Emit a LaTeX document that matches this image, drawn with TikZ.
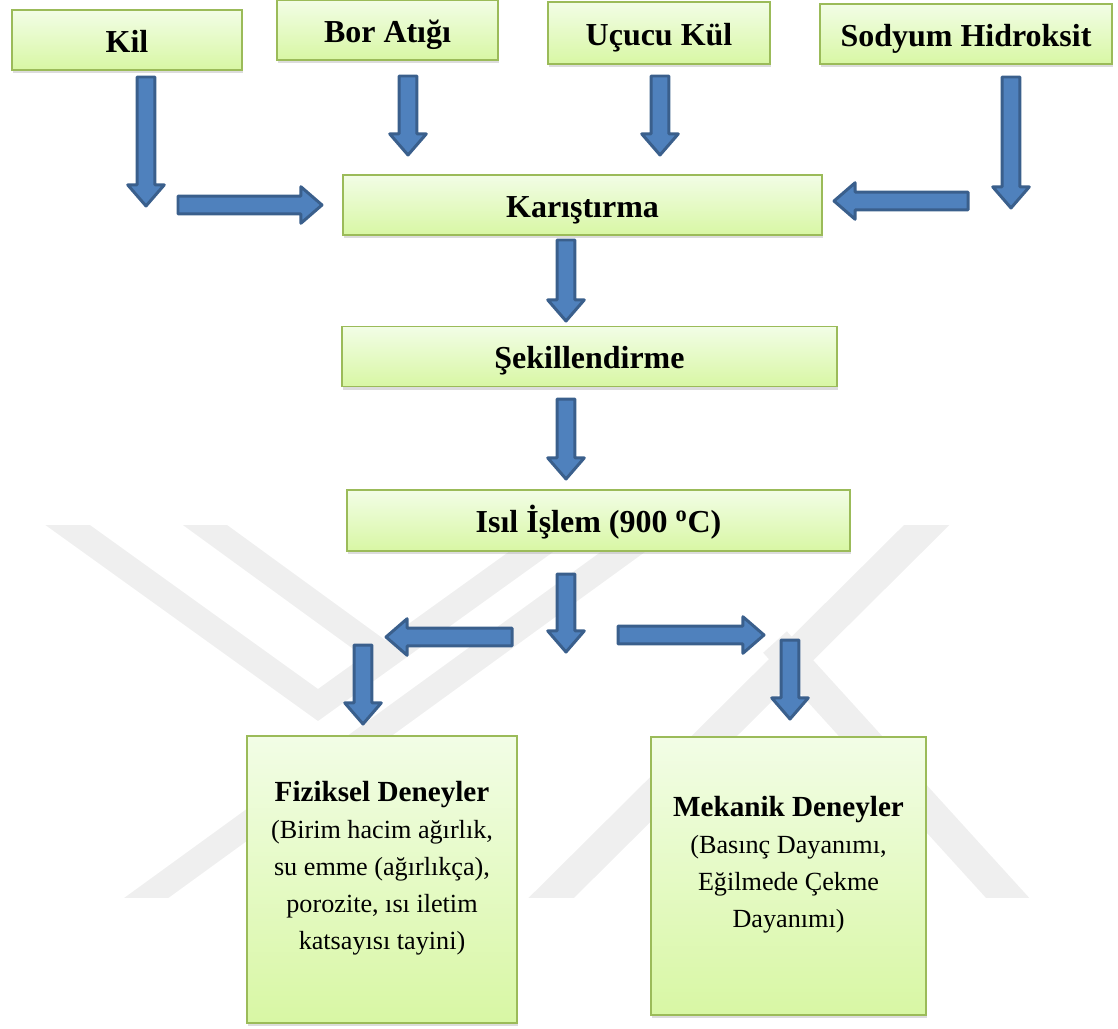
\documentclass[tikz,border=0pt]{standalone}
\usepackage{fontspec}
\setmainfont{Liberation Serif}
\usetikzlibrary{calc,shadows}

\definecolor{boxtop}{HTML}{F2FDE6}
\definecolor{boxbottom}{HTML}{D8F7A4}
\definecolor{boxline}{HTML}{9BBB59}
\definecolor{arrowbody}{HTML}{4F81BD}
\definecolor{arrowedge}{HTML}{3A5F8C}
\definecolor{wmarkgray}{HTML}{EFEFEF}

\newcommand{\shafthw}{5.1pt}
\newcommand{\headhw}{10.4pt}
\newcommand{\headlen}{12pt}

\begin{document}
\begin{tikzpicture}[x=0.02cm,y=-0.02cm,
  box/.style={draw=boxline,line width=1.1pt,top color=boxtop,bottom color=boxbottom,inner sep=0pt,align=center,
    font=\fontsize{18.2}{21}\bfseries,drop shadow={shadow xshift=0.8pt,shadow yshift=-1.8pt,opacity=0.3,fill=black!45}},
  stepbox/.style={box,text height=14pt,text depth=0pt,minimum height=1.2cm},
  bigbox/.style={box,minimum width=5.4cm},
  wmark/.style={draw=wmarkgray,line cap=butt,line join=miter},
  blockarrow/.style={draw=arrowedge,fill=arrowbody,line width=1.7pt,line join=round,
    to path={let \p1=(\tikztostart),\p2=(\tikztotarget),
      \n1={veclen(\x2-\x1,\y2-\y1)},\n2={(\x2-\x1)/\n1},\n3={(\y2-\y1)/\n1} in
      ({\x1-(\n3)*\shafthw},{\y1+(\n2)*\shafthw})
      -- ({\x2-(\n2)*\headlen-(\n3)*\shafthw},{\y2-(\n3)*\headlen+(\n2)*\shafthw})
      -- ({\x2-(\n2)*\headlen-(\n3)*\headhw},{\y2-(\n3)*\headlen+(\n2)*\headhw})
      -- (\x2,\y2)
      -- ({\x2-(\n2)*\headlen+(\n3)*\headhw},{\y2-(\n3)*\headlen-(\n2)*\headhw})
      -- ({\x2-(\n2)*\headlen+(\n3)*\shafthw},{\y2-(\n3)*\headlen-(\n2)*\shafthw})
      -- ({\x1+(\n3)*\shafthw},{\y1-(\n2)*\shafthw}) -- cycle}}]
\useasboundingbox (0,0) rectangle (1118,1028);

% faint logo behind the lower part
\begin{scope}
\clip (0,525) rectangle (1118,897);
\draw[wmark,line width=0.52cm] (12,485) -- (318,705) -- (624,485);
\draw[wmark,line width=0.52cm] (150,485) -- (385,656);
\draw[wmark,line width=0.52cm] (120,917) -- (715,485);
\draw[wmark,line width=0.64cm] (532,917) -- (968,484);
\draw[wmark,line width=0.64cm] (775,642) -- (1025,917);
\end{scope}

\node[stepbox,minimum width=4.6cm] (kil) at (127,40) {Kil};
\node[stepbox,minimum width=4.42cm] (bor) at (387.5,30) {Bor Atığı};
\node[stepbox,minimum width=4.44cm,minimum height=1.24cm] (ucucu) at (659,33) {Uçucu Kül};
\node[stepbox,minimum width=5.84cm] (naoh) at (966,34) {Sodyum Hidroksit};
\node[stepbox,minimum width=9.58cm] (karistirma) at (582.5,205) {Karıştırma};
\node[stepbox,minimum width=9.9cm] (sekil) at (589.5,356.5) {Şekillendirme};
\node[stepbox,minimum width=10.06cm,minimum height=1.22cm] (isil) at (598.5,520.5) {Isıl İşlem (900 \textsuperscript{o}C)};
\node[bigbox] (fiziksel) at (382,879.5) {\parbox[c][5.74cm][c]{5.2cm}{\centering
  \fontsize{16.6}{21}\bfseries Fiziksel Deneyler\\
  \fontsize{14.9}{21}\mdseries (Birim hacim ağırlık,\\ su emme (ağırlıkça),\\ porozite, ısı iletim\\ katsayısı tayini)\par\vspace{0.45cm}}};
\node[bigbox,minimum width=5.5cm] (mekanik) at (788.5,876) {\parbox[c][5.56cm][c]{5.3cm}{\centering
  \fontsize{16.6}{21}\bfseries Mekanik Deneyler\\
  \fontsize{14.9}{21}\mdseries (Basınç Dayanımı,\\ Eğilmede Çekme\\ Dayanımı)\par\vspace{0.45cm}}};

\coordinate (kilA) at (146,77);   \coordinate (kilB) at (146,206);
\coordinate (kilC) at (178,205);  \coordinate (kilD) at (322,205);
\coordinate (borA) at (408,76);   \coordinate (borB) at (408,155);
\coordinate (ucA) at (660,76);    \coordinate (ucB) at (660,155);
\coordinate (naA) at (1011,77);   \coordinate (naB) at (1011,208);
\coordinate (naC) at (968,201);   \coordinate (naD) at (834,201);
\coordinate (karA) at (566,240);  \coordinate (karB) at (566,321);
\coordinate (sekA) at (566,399);  \coordinate (sekB) at (566,479);
\coordinate (isA) at (566,574);   \coordinate (isB) at (566,652);
\coordinate (leftA) at (512,637); \coordinate (leftB) at (386,637);
\coordinate (rightA) at (618,635);\coordinate (rightB) at (764,635);
\coordinate (fizA) at (363,645);  \coordinate (fizB) at (363,724);
\coordinate (mekA) at (790,640);  \coordinate (mekB) at (790,719);

\draw[blockarrow] (kilA) to (kilB);
\draw[blockarrow] (kilC) to (kilD);
\draw[blockarrow] (borA) to (borB);
\draw[blockarrow] (ucA) to (ucB);
\draw[blockarrow] (naA) to (naB);
\draw[blockarrow] (naC) to (naD);
\draw[blockarrow] (karA) to (karB);
\draw[blockarrow] (sekA) to (sekB);
\draw[blockarrow] (isA) to (isB);
\draw[blockarrow] (leftA) to (leftB);
\draw[blockarrow] (rightA) to (rightB);
\draw[blockarrow] (fizA) to (fizB);
\draw[blockarrow] (mekA) to (mekB);
\end{tikzpicture}
\end{document}
